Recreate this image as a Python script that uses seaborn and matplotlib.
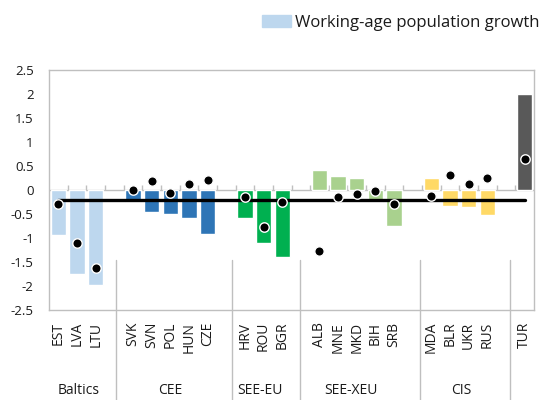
import matplotlib
matplotlib.use('Agg')
import matplotlib.pyplot as plt
import matplotlib.transforms as mtransforms
from matplotlib.patches import Patch
import numpy as np
import pandas as pd
import seaborn as sns

# data
groups = ['Baltics', 'CEE', 'SEE-EU', 'SEE-XEU', 'CIS', 'TUR']
countries = [
    ['EST', 'LVA', 'LTU'],
    ['SVK', 'SVN', 'POL', 'HUN', 'CZE'],
    ['HRV', 'ROU', 'BGR'],
    ['ALB', 'MNE', 'MKD', 'BIH', 'SRB'],
    ['MDA', 'BLR', 'UKR', 'RUS'],
    ['TUR'],
]
wap_growth = [
    [-0.94, -1.74, -1.97],
    [-0.26, -0.45, -0.49, -0.58, -0.91],
    [-0.58, -1.11, -1.40],
    [0.42, 0.30, 0.26, -0.26, -0.76],
    [0.26, -0.33, -0.36, -0.52],
    [1.99],
]
dot_values = [
    [-0.29, -1.11, -1.62],
    [0.01, 0.18, -0.06, 0.12, 0.20],
    [-0.15, -0.78, -0.24],
    [-1.27, -0.14, -0.08, -0.02, -0.29],
    [-0.13, 0.32, 0.12, 0.26],
    [0.64],
]
avg_line = -0.2
group_colors = ['#BDD7EE', '#2E75B6', '#00B050', '#A9D18E', '#FFD966', '#595959']
legend_label = 'Working-age population growth'

sns.set_style('white')
plt.rcParams['font.family'] = ['Open Sans', 'DejaVu Sans']
plt.rcParams['axes.unicode_minus'] = False
txt_col = '#1a1a1a'
grid_col = '#BFBFBF'

# category order with one empty slot between groups
order = []
for i, cs in enumerate(countries):
    order += cs
    if i < len(countries) - 1:
        order.append(' ' * (i + 1))

rows = []
for g, cs, w, d in zip(groups, countries, wap_growth, dot_values):
    for c, wv, dv in zip(cs, w, d):
        rows.append({'code': c, 'group': g, 'wap': wv, 'dot': dv})
df = pd.DataFrame(rows)
df['pos'] = [order.index(c) for c in df['code']]

fig = plt.figure(figsize=(5.45, 4), dpi=100)
ax = fig.add_axes([49 / 545, 1 - 310 / 400, 485 / 545, 240 / 400])

sns.barplot(data=df, x='code', y='wap', hue='group', order=order,
            palette=dict(zip(groups, group_colors)), dodge=False, width=0.82,
            saturation=1, legend=False, ax=ax, zorder=2)

first, last = df['pos'].iloc[0], df['pos'].iloc[-1]
sns.lineplot(x=[first, last], y=[avg_line, avg_line], color='black', lw=2.4,
             ax=ax, zorder=3)
sns.scatterplot(data=df, x='pos', y='dot', color='black', edgecolor='white',
                linewidth=1, s=46, ax=ax, zorder=4)

# zero axis line with tick marks
ax.axhline(0, color=grid_col, lw=1, zorder=1.5)
ax.vlines(np.arange(0.5, len(order) - 0.5, 1), 0, 0.1, color=grid_col, lw=1, zorder=1.5)

ax.set_xlim(-0.5, len(order) - 0.5)
ax.set_ylim(-2.5, 2.5)
yt = np.arange(-2.5, 2.51, 0.5)
ax.set_yticks(yt)
ax.set_yticklabels(['%g' % v for v in yt], fontsize=9.5, color=txt_col)
ax.set_xticks(range(len(order)))
ax.set_xticklabels([o.strip() for o in order], rotation=90, fontsize=10, color=txt_col)
ax.tick_params(axis='both', length=0)
ax.tick_params(axis='y', pad=11)
ax.tick_params(axis='x', pad=8.5)
ax.set_xlabel('')
ax.set_ylabel('')
for s in ax.spines.values():
    s.set_visible(True)
    s.set_color(grid_col)
    s.set_linewidth(1)

# group separators and group labels below the axis
trans = mtransforms.blended_transform_factory(ax.transData, fig.transFigure)
for xs in [3.09, 9.30, 12.98, 19.37, 24.19]:
    ax.plot([xs, xs], [1 - 260 / 400, 0], color=grid_col, lw=1, transform=trans, clip_on=False)
for g, xg in zip(groups[:-1], [1.1, 6.02, 10.79, 15.68, 21.6]):
    ax.text(xg, 1.5 / 400, g, transform=trans, ha='center', va='bottom',
            fontsize=10, color=txt_col)

fig.legend(handles=[Patch(color=group_colors[0])], labels=[legend_label],
           loc='center left', bbox_to_anchor=(262 / 545, 1 - 23 / 400),
           frameon=False, fontsize=12, handlelength=1.75, handleheight=0.75,
           handletextpad=0.25, borderpad=0, borderaxespad=0,
           labelcolor=txt_col)

fig.savefig('out.png', dpi=100)
